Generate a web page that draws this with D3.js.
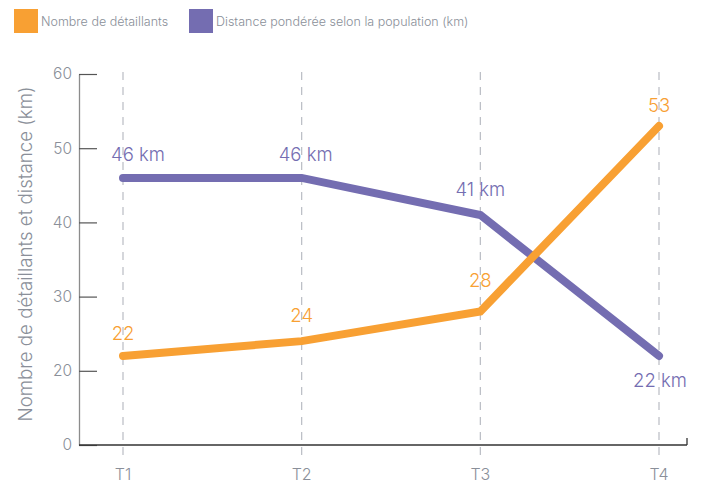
<!DOCTYPE html>
<html><head><meta charset="utf-8">
<script src="https://cdn.jsdelivr.net/npm/d3@7"></script>
<style>body{margin:0;background:#fff;} text{font-family:Inter,sans-serif;font-weight:300;}</style>
</head><body>
<svg id="c" width="701" height="485"></svg>
<script>
const categories = ["T1","T2","T3","T4"];
const retailers = [22,24,28,53];
const distance = [46,46,41,22];
const yTicks = [10,20,30,40,50,60];
const yTickLabels = ["0","20","30","40","50","60"];
const seriesNames = ["Nombre de détaillants","Distance pondérée selon la population (km)"];
const distanceLabels = distance.map(d => d + " km");

const orange = "#f8a033", purple = "#746db1", gray = "#8a8f99";
const svg = d3.select("#c");
const x = d3.scalePoint().domain(categories).range([123,659]);
const y = d3.scaleLinear().domain([10,60]).range([445,74]);
const axisLeftX = 79, axisRightX = 687;

// grid dashed
svg.append("g").selectAll("line").data(categories).join("line")
  .attr("x1", d=>x(d)).attr("x2", d=>x(d)).attr("y1", 72).attr("y2", 460)
  .attr("stroke", "#b9bcc4").attr("stroke-width", 1.2).attr("stroke-dasharray", "8,7");

// y axis
const ya = svg.append("g").attr("transform", `translate(${axisLeftX},0)`)
  .call(d3.axisLeft(y).tickValues(yTicks).tickFormat((d,i)=>yTickLabels[i]).tickSize(-18).tickSizeOuter(0).tickPadding(7));
ya.select(".domain").attr("stroke", "#8c8c8c").attr("stroke-width", 1.3);
ya.selectAll(".tick line").attr("stroke", "#555").attr("stroke-width", 1.2);
ya.selectAll(".tick text").attr("fill", gray).attr("font-size", 15.5).attr("font-family", "Inter, sans-serif").attr("font-weight", 300);

// x axis
svg.append("line").attr("x1", axisLeftX).attr("x2", axisRightX).attr("y1", 445).attr("y2", 445)
  .attr("stroke", "#333").attr("stroke-width", 1.3);
svg.append("line").attr("x1", axisRightX).attr("x2", axisRightX).attr("y1", 438).attr("y2", 445)
  .attr("stroke", "#333").attr("stroke-width", 1.3);
svg.append("g").selectAll("text").data(categories).join("text")
  .attr("x", d=>x(d)).attr("y", 480).attr("text-anchor","middle")
  .attr("fill", gray).attr("font-size", 16).text(d=>d);

// axis title
svg.append("text").attr("transform", "translate(32,254) rotate(-90)")
  .attr("text-anchor","middle").attr("fill", gray).attr("font-size", 18.7)
  .text("Nombre de détaillants et distance (km)");

// lines
const line = d3.line().x((d,i)=>x(categories[i])).y(d=>y(d));
svg.append("path").datum(distance).attr("d", line).attr("fill","none")
  .attr("stroke", purple).attr("stroke-width", 8).attr("stroke-linecap","round").attr("stroke-linejoin","miter");
svg.append("path").datum(retailers).attr("d", line).attr("fill","none")
  .attr("stroke", orange).attr("stroke-width", 8).attr("stroke-linecap","round").attr("stroke-linejoin","miter");

// labels
const retDy = [-16,-19,-24,-14];
svg.append("g").selectAll("text").data(retailers).join("text")
  .attr("x",(d,i)=>x(categories[i])).attr("y",(d,i)=>y(d)+retDy[i])
  .attr("text-anchor","middle").attr("fill", orange).attr("font-size", 18.5).text(d=>d);
const disDx = [15,4,0,1], disDy = [-17,-17,-18.5,31];
svg.append("g").selectAll("text").data(distance).join("text")
  .attr("x",(d,i)=>x(categories[i])+disDx[i]).attr("y",(d,i)=>y(d)+disDy[i])
  .attr("text-anchor","middle").attr("fill", purple).attr("font-size", 18.5).text((d,i)=>distanceLabels[i]);

// legend
const leg = [{c:orange,x:14},{c:purple,x:189}];
leg.forEach((l,i)=>{
  svg.append("rect").attr("x",l.x).attr("y",9).attr("width",24).attr("height",24).attr("fill",l.c);
  svg.append("text").attr("x",l.x+27).attr("y",26).attr("fill",gray).attr("font-size",12.5).text(seriesNames[i]);
});
</script>
</body></html>
